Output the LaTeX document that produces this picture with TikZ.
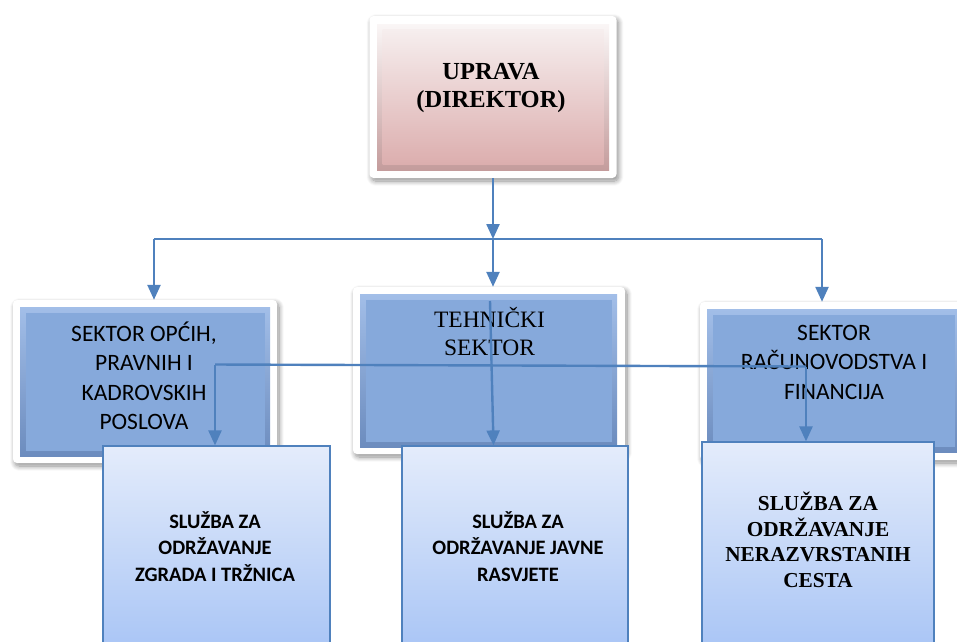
\documentclass[tikz,border=0pt]{standalone}
\usepackage{fontspec}
\setmainfont{Liberation Serif}
\newfontfamily\calfont{Carlito}
\usetikzlibrary{arrows.meta,shadows.blur}
\definecolor{conncol}{RGB}{79,129,189}
\definecolor{secfill}{RGB}{134,169,219}
\definecolor{secbevtop}{RGB}{162,190,232}
\definecolor{secbevbot}{RGB}{108,140,190}
\definecolor{pinktop}{RGB}{246,238,238}
\definecolor{pinkbot}{RGB}{220,174,174}
\definecolor{pinkbevtop}{RGB}{250,246,246}
\definecolor{pinkbevbot}{RGB}{196,156,156}
\definecolor{subtop}{RGB}{228,236,251}
\definecolor{subbot}{RGB}{166,195,245}
\begin{document}
\begin{tikzpicture}[x=1pt,y=-1pt,
  frame/.style={draw=none,fill=white,rounded corners=4pt,inner sep=0pt,
    blur shadow={shadow blur steps=10,shadow xshift=2pt,shadow yshift=-3pt,shadow opacity=45,shadow blur radius=5pt}},
  bevelsec/.style={draw=none,inner sep=0pt,top color=secbevtop,bottom color=secbevbot},
  facesec/.style={draw=none,inner sep=0pt,fill=secfill},
  bevelpink/.style={draw=none,inner sep=0pt,top color=pinkbevtop,bottom color=pinkbevbot},
  facepink/.style={draw=none,inner sep=0pt,top color=pinktop,bottom color=pinkbot},
  subbox/.style={draw=conncol,line width=1.2pt,inner sep=0pt,top color=subtop,bottom color=subbot},
  conn/.style={draw=conncol,line width=2.4pt},
  arr/.style={conn,-{Triangle[width=13pt,length=15pt]}},
  txt/.style={align=center,inner sep=0pt}
]
\useasboundingbox (0,0) rectangle (957,641);
\begin{scope}
\clip (0,0) rectangle (957,641);
% top box
\node[frame,minimum width=247,minimum height=162] (f0) at (493,97) {};
\node[bevelpink,minimum width=232,minimum height=146] (b0) at (493,97) {};
\node[facepink,minimum width=221,minimum height=135] (b0i) at (493,97) {};
\node[txt,font=\fontsize{24.5}{28}\selectfont\bfseries] (t0) at (491,88) {UPRAVA\\(DIREKTOR)};
% sector boxes
\node[frame,minimum width=264,minimum height=163] (f1) at (145,381.5) {};
\node[bevelsec,minimum width=250,minimum height=149] (b1) at (145,381.5) {};
\node[facesec,minimum width=239,minimum height=138] (b1i) at (145,381.5) {};
\node[txt,font=\calfont\fontsize{23.5}{29.5}\selectfont] (t1) at (144,376) {SEKTOR OPĆIH,\\PRAVNIH I\\KADROVSKIH\\POSLOVA};
\node[frame,minimum width=272,minimum height=167] (f2) at (489,370.5) {};
\node[bevelsec,minimum width=257,minimum height=153] (b2) at (488.5,370.5) {};
\node[facesec,minimum width=246,minimum height=142] (b2i) at (488.5,370.5) {};
\node[txt,font=\fontsize{23.5}{28}\selectfont] (t2) at (489.5,332) {TEHNIČKI\\SEKTOR};
\node[frame,minimum width=267,minimum height=158] (f3) at (833.5,381) {};
\node[bevelsec,minimum width=253,minimum height=143] (b3) at (833.5,380.5) {};
\node[facesec,minimum width=242,minimum height=132] (b3i) at (833.5,380.5) {};
\node[txt,font=\calfont\fontsize{23.5}{29.5}\selectfont] (t3) at (834,362) {SEKTOR\\RAČUNOVODSTVA I\\FINANCIJA};
% sub boxes
\node[subbox,minimum width=227,minimum height=214] (s1) at (216.5,553) {};
\node[txt,font=\calfont\fontsize{20.5}{26.5}\selectfont\bfseries] (u1) at (215,546.5) {SLUŽBA ZA\\ODRŽAVANJE\\ZGRADA I TRŽNICA};
\node[subbox,minimum width=226,minimum height=214] (s2) at (515,553) {};
\node[txt,font=\calfont\fontsize{20.5}{26.5}\selectfont\bfseries] (u2) at (518,546.5) {SLUŽBA ZA\\ODRŽAVANJE JAVNE\\RASVJETE};
\node[subbox,minimum width=232,minimum height=218] (s3) at (818,551) {};
\node[txt,font=\fontsize{21.3}{25.5}\selectfont\bfseries] (u3) at (818,540) {SLUŽBA ZA\\ODRŽAVANJE\\NERAZVRSTANIH\\CESTA};
% first level connectors
\coordinate (j) at (493,239);
\coordinate (hl) at (154,239);
\coordinate (hr) at (822,239);
\draw[arr] (f0.south) -- (j);
\draw[conn] (hl) -- (hr);
\draw[arr] (hl) -- (hl |- f1.north);
\draw[arr] (j) -- (j |- f2.north);
\draw[arr] (hr) -- (hr |- f3.north);
% second level connectors
\coordinate (k1) at (215,364.5);
\coordinate (k3) at (806,366.5);
\coordinate (k2) at (490,301);
\coordinate (k2e) at (493.5,446);
\draw[conn] (k1) -- (k3);
\draw[arr] (k1) -- (k1 |- s1.north);
\draw[arr] (k2) -- (k2e |- s2.north);
\draw[arr] (k3) -- (k3 |- s3.north);
\end{scope}
\end{tikzpicture}
\end{document}
